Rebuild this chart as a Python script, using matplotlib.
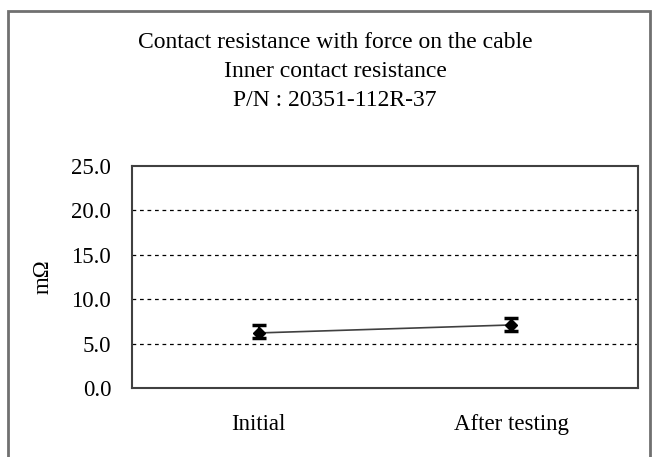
import matplotlib
matplotlib.use("Agg")
import matplotlib.pyplot as plt
from matplotlib.patches import Rectangle

categories = ["Initial", "After testing"]
means = [6.2, 7.1]
upper = [7.1, 7.9]
lower = [5.6, 6.4]
yticks = [0.0, 5.0, 10.0, 15.0, 20.0, 25.0]
title_lines = ["Contact resistance with force on the cable",
               "Inner contact resistance",
               "P/N : 20351-112R-37"]

plt.rcParams['font.family'] = ['Liberation Serif', 'DejaVu Serif']

W, H = 652, 457
fig = plt.figure(figsize=(W / 100, H / 100), dpi=100)

# outer chart frame
fig.patches.append(Rectangle((8 / W, -0.05), (650 - 8) / W, (H - 11) / H + 0.05,
                             transform=fig.transFigure, fill=False,
                             edgecolor="#707070", linewidth=2.0))

ax = fig.add_axes([132 / W, (H - 388) / H, (638 - 132) / W, (388 - 166) / H])
x = list(range(len(categories)))
yerr = [[m - l for m, l in zip(means, lower)], [u - m for u, m in zip(upper, means)]]
ax.plot(x, means, color="#404040", linewidth=1.2, zorder=3)
ax.errorbar(x, means, yerr=yerr, fmt="D", color="black", markersize=6.5,
            ecolor="black", elinewidth=1.5, capsize=5, capthick=2.5, zorder=4)

ax.set_xlim(-0.5, len(categories) - 0.5)
ax.set_ylim(0, 25)
ax.set_yticks(yticks)
ax.set_yticklabels([f"{v:.1f}" for v in yticks], fontsize=16.5)
ax.set_xticks(x)
ax.set_xticklabels(categories, fontsize=16.5)
ax.tick_params(axis="x", length=0, pad=19)
ax.tick_params(axis="y", length=0, pad=15)
for v in yticks[1:-1]:
    ax.axhline(v, color="black", linestyle=(0, (3, 3)), linewidth=0.9, zorder=1)
for s in ax.spines.values():
    s.set_color("#404040")
    s.set_linewidth(1.5)
ax.set_ylabel("mΩ", fontsize=16.5, labelpad=13)

for i, t in enumerate(title_lines):
    fig.text(335 / W, 1 - (42 + i * 29.5) / H, t, ha="center", va="center", fontsize=17)

fig.savefig("out.png", dpi=100)
